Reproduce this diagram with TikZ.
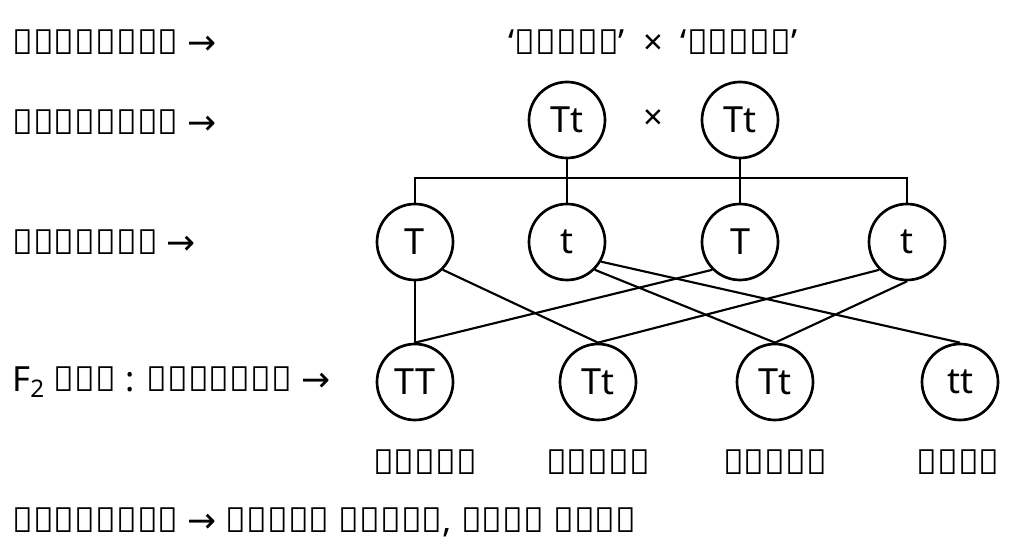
\documentclass[tikz,border=0pt]{standalone}
\usepackage{fontspec}
\setmainfont{Noto Sans}
\newfontfamily\dv{DejaVu Sans}
\newcommand{\ar}{{\dv →}}
\begin{document}
\begin{tikzpicture}[x=0.75pt,y=-0.75pt,
  c/.style={circle,draw,line width=2pt,minimum size=57pt,inner sep=0pt,font=\fontsize{27}{30}\selectfont\bfseries},
  t/.style={font=\fontsize{26}{30}\selectfont,inner sep=0pt},
  l/.style={line width=1.6pt}]
\useasboundingbox (0,0) rectangle (1024,559);
\node[t,anchor=west] (p1) at (12,42) {ফিনোটাইপ \ar};
\node[t,anchor=west] (p2) at (12,122) {জিনোটাইপ \ar};
\node[t,anchor=west] (p3) at (12,242) {গ্যামেট \ar};
\node[t,anchor=west] (p4) at (12,382) {F\textsubscript{2} জনু : জিনোটাই \ar};
\node[t,anchor=west] (p5) at (12,522) {ফিনোটাইপ \ar{} তিনটি লম্বা, একটি খাটো};
\node[t] (ph) at (653,42) {‘লম্বা’ \ × \ ‘লম্বা’};
\node[c] (A) at (567,120) {Tt};
\node[c] (B) at (740,120) {Tt};
\node[t,font=\fontsize{26}{30}\selectfont\bfseries] (x) at (653,120) {×};
\node[c] (g1) at (415,242) {T};
\node[c] (g2) at (567,242) {t};
\node[c] (g3) at (740,242) {T};
\node[c] (g4) at (907,242) {t};
\node[c] (f1) at (415,382) {TT};
\node[c] (f2) at (598,382) {Tt};
\node[c] (f3) at (775,382) {Tt};
\node[c] (f4) at (960,382) {tt};
\node[t] (q1) at (425,462) {লম্বা};
\node[t] (q2) at (598,462) {লম্বা};
\node[t] (q3) at (775,462) {লম্বা};
\node[t] (q4) at (958,462) {খাটো};
\coordinate (h1) at (415,178); \coordinate (h4) at (907,178);
\draw[l] (g1.north) -- (h1) -- (h4) -- (g4.north);
\draw[l] (A.south) -- (g2.north);
\draw[l] (B.south) -- (g3.north);
\draw[l] (g1.south) -- (f1.north);
\draw[l] (g1.south east) -- (f2.north);
\draw[l] (g3.south west) -- (f1.north);
\draw[l] (g4.south west) -- (f2.north);
\draw[l] (g4.south) -- (f3.north);
\draw[l] (g2.south east) -- (f3.north);
\draw[l] (g2.-30) -- (f4.north);
\end{tikzpicture}
\end{document}
